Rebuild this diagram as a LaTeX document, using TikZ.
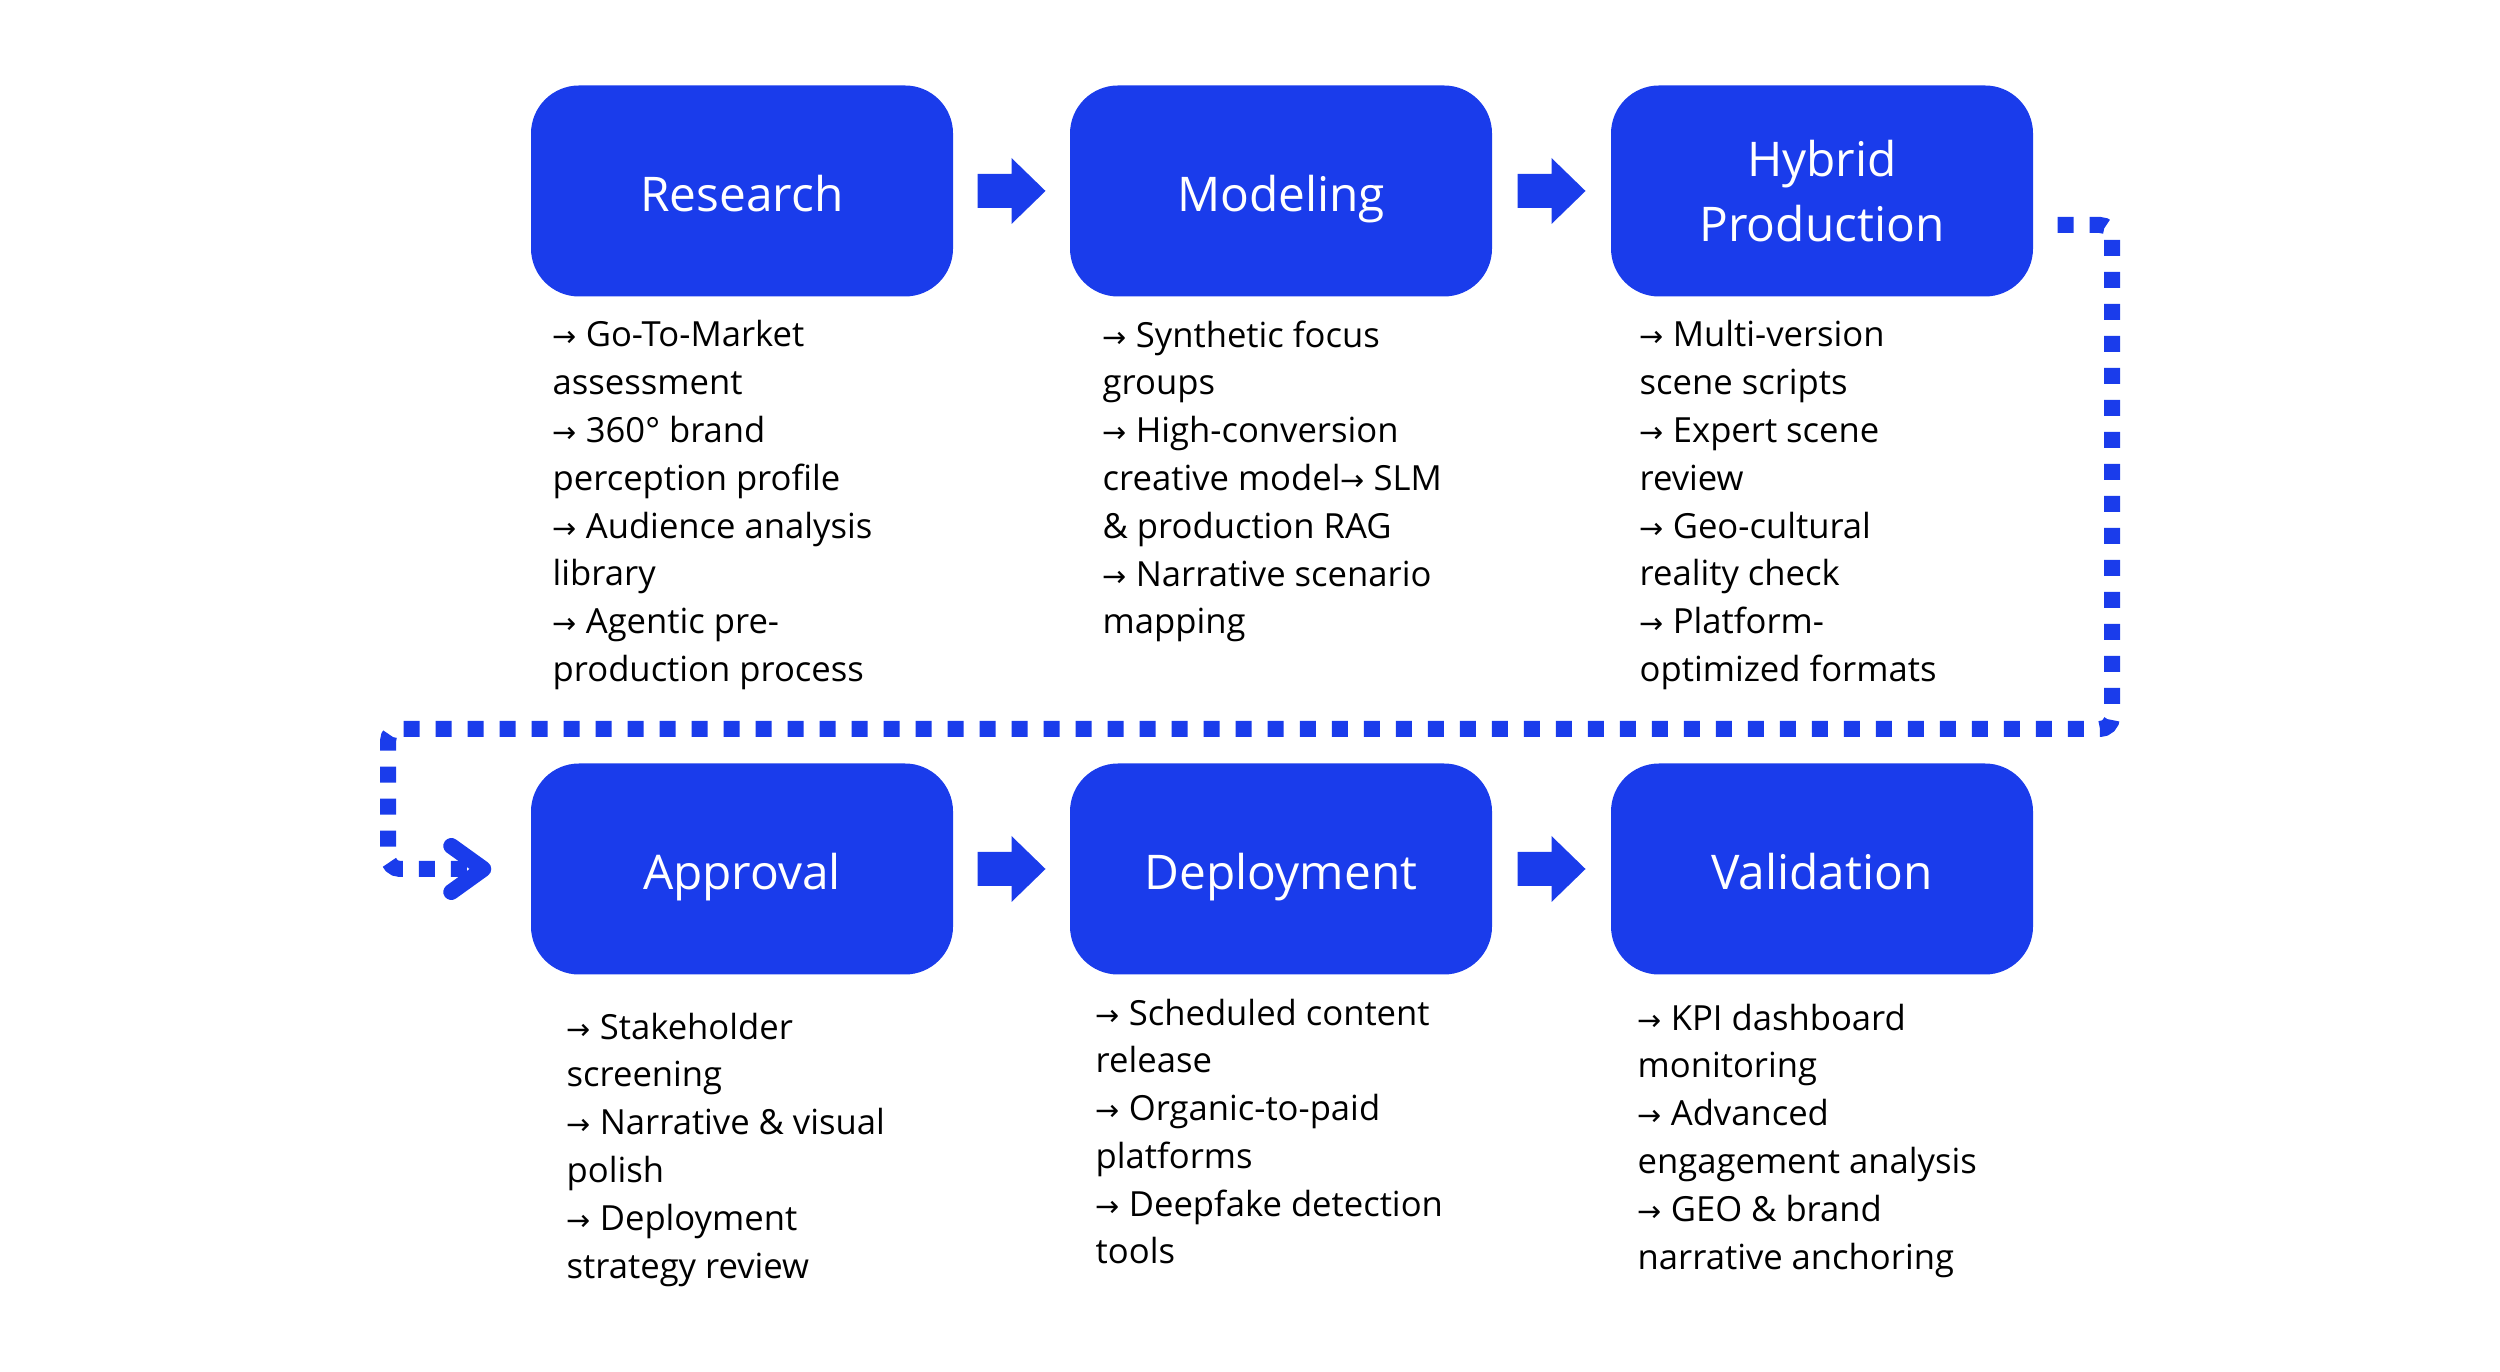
\documentclass[tikz,border=0pt]{standalone}
\usepackage{fontspec}
\setmainfont{Open Sans}
\newfontfamily\arrowfont{DejaVu Sans}
\usetikzlibrary{calc}
\definecolor{flowblue}{HTML}{1A3CEB}
\newcommand{\bul}{{\arrowfont\fontsize{8.2}{8}\selectfont →}\ }

\begin{document}
\begin{tikzpicture}
  \tikzstyle{stage}=[rectangle,rounded corners=0.48cm,fill=flowblue,text=white,minimum width=4.22cm,minimum height=2.11cm,inner sep=0pt,align=center,font=\fontsize{13.6}{18.5}\selectfont]
  \tikzstyle{oneline}=[text height=0.42cm,text depth=0cm]
  \tikzstyle{notes}=[anchor=north west,align=left,inner sep=0pt,font=\fontsize{9.85}{13.6}\selectfont]
  \tikzstyle{flow}=[fill=flowblue]
  \tikzstyle{returnpath}=[draw=flowblue,line width=0.16cm,dash pattern=on 0.16cm off 0.16cm,rounded corners=0.12cm]
  \useasboundingbox (0,0) rectangle (25,13.71);
  % top row
  \node[stage,oneline] (research) at (7.42,11.80) {Research};
  \node[stage,oneline] (modeling) at (12.81,11.80) {Modeling};
  \node[stage] (hybrid) at (18.22,11.80) {Hybrid\\Production};
  % bottom row
  \node[stage,oneline] (approval) at (7.42,5.02) {Approval};
  \node[stage,oneline] (deployment) at (12.81,5.02) {Deployment};
  \node[stage,oneline] (validation) at (18.22,5.02) {Validation};
  % notes under each stage
  \node[notes] (research-notes) at (5.52,10.51) {\bul Go-To-Market\\assessment\\\bul 360° brand\\perception profile\\\bul Audience analysis\\library\\\bul Agentic pre-\\production process};
  \node[notes] (modeling-notes) at (11.02,10.51) {\bul Synthetic focus\\groups\\\bul High-conversion\\creative model\bul SLM\\\& production RAG\\\bul Narrative scenario\\mapping};
  \node[notes] (hybrid-notes) at (16.39,10.51) {\bul Multi-version\\scene scripts\\\bul Expert scene\\review\\\bul Geo-cultural\\reality check\\\bul Platform-\\optimized formats};
  \node[notes] (approval-notes) at (5.66,3.59) {\bul Stakeholder\\screening\\\bul Narrative \& visual\\polish\\\bul Deployment\\strategy review};
  \node[notes] (deployment-notes) at (10.95,3.73) {\bul Scheduled content\\release\\\bul Organic-to-paid\\platforms\\\bul Deepfake detection\\tools};
  \node[notes] (validation-notes) at (16.37,3.68) {\bul KPI dashboard\\monitoring\\\bul Advanced\\engagement analysis\\\bul GEO \& brand\\narrative anchoring};
  % block arrows between stages
  \foreach \a/\b in {research/modeling,modeling/hybrid,approval/deployment,deployment/validation}
    \fill[flow] ($(\a.east)!0.5!(\b.west)$) ++(-0.34,-0.17) -- ++(0.34,0) -- ++(0,-0.16)
      -- ++(0.34,0.33) -- ++(-0.34,0.33) -- ++(0,-0.16) -- ++(-0.34,0) -- cycle;
  % dotted return from the top row to the bottom row
  \coordinate (turn-start) at ($(hybrid.east)+(0.24,-0.34)$);
  \coordinate (turn-end) at ($(approval.west)+(-0.47,0)$);
  \draw[returnpath] (turn-start) -| (21.12,6.42) -| (3.88,5.02) -- (turn-end);
  \draw[flowblue,line width=0.16cm,line cap=round,line join=round]
    ($(turn-end)+(-0.32,0.23)$) -- (turn-end) -- ($(turn-end)+(-0.32,-0.23)$);
\end{tikzpicture}
\end{document}
